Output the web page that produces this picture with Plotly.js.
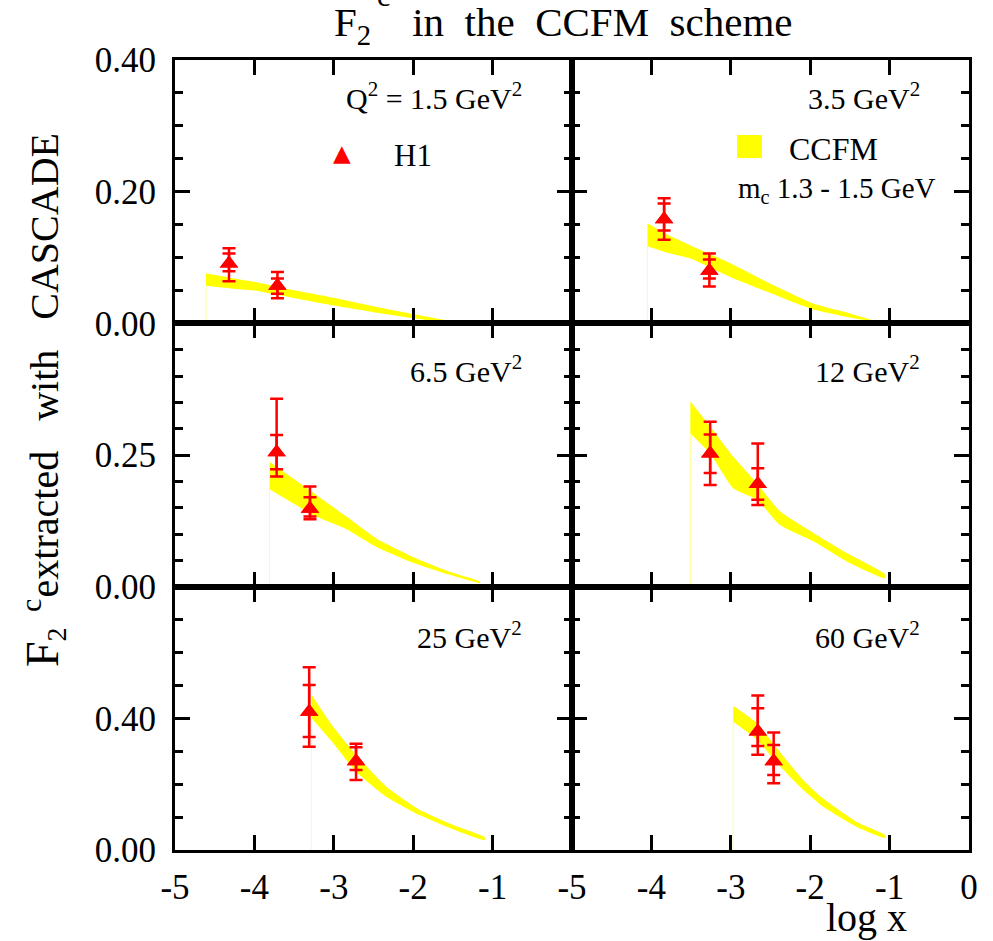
<!DOCTYPE html>
<html>
<head>
<meta charset="utf-8">
<script src="https://cdn.plot.ly/plotly-3.0.1.min.js"></script>
<style>html,body{margin:0;padding:0;background:#fff;}#chart{width:993px;height:941px;}</style>
</head>
<body>
<div id="chart"></div>
<script>
// ---------- data ----------
const panelLabels = [
  "Q<sup>2</sup> = 1.5 GeV<sup>2</sup>", "3.5 GeV<sup>2</sup>",
  "6.5 GeV<sup>2</sup>", "12 GeV<sup>2</sup>",
  "25 GeV<sup>2</sup>", "60 GeV<sup>2</sup>"
];
// CCFM band (m_c 1.3 - 1.5 GeV): log x, upper and lower edges
const bandX = [
  [-4.61, -4.30, -4.00, -3.70, -3.00, -2.50, -2.00, -1.60, -1.17],
  [-4.05, -3.82, -3.50, -3.00, -2.48, -1.96, -1.50, -1.08],
  [-3.81, -3.22, -2.84, -2.47, -2.01, -1.55, -1.16],
  [-3.51, -3.26, -2.97, -2.67, -2.38, -1.96, -1.54, -1.06],
  [-3.28, -3.01, -2.72, -2.34, -1.92, -1.50, -1.10],
  [-2.97, -2.67, -2.42, -2.09, -1.84, -1.42, -1.06]
];
const bandUpper = [
  [0.076, 0.069, 0.063, 0.055, 0.039, 0.026, 0.014, 0.005, 0.000],
  [0.152, 0.136, 0.118, 0.091, 0.059, 0.030, 0.015, 0.000],
  [0.237, 0.174, 0.133, 0.092, 0.057, 0.029, 0.010],
  [0.352, 0.304, 0.247, 0.196, 0.143, 0.102, 0.064, 0.024],
  [0.472, 0.375, 0.289, 0.193, 0.122, 0.076, 0.039],
  [0.438, 0.385, 0.309, 0.213, 0.157, 0.086, 0.046]
];
const bandLower = [
  [0.057, 0.053, 0.050, 0.043, 0.027, 0.017, 0.008, 0.001, 0.000],
  [0.117, 0.108, 0.098, 0.070, 0.045, 0.021, 0.009, 0.000],
  [0.185, 0.133, 0.109, 0.076, 0.046, 0.023, 0.007],
  [0.291, 0.253, 0.187, 0.165, 0.117, 0.086, 0.048, 0.016],
  [0.400, 0.325, 0.238, 0.162, 0.106, 0.063, 0.030],
  [0.390, 0.335, 0.264, 0.183, 0.132, 0.071, 0.037]
];
// H1 data points
const h1X = [[-4.32, -3.71], [-3.84, -3.27], [-3.72, -3.30], [-3.26, -2.66], [-3.31, -2.72], [-2.66, -2.46]];
const h1Y = [[0.091, 0.057], [0.158, 0.080], [0.255, 0.148], [0.253, 0.195], [0.420, 0.270], [0.360, 0.270]];
const statPlus  = [[0.015, 0.011], [0.024, 0.017], [0.033, 0.022], [0.036, 0.030], [0.081, 0.042], [0.071, 0.049]];
const statMinus = [[0.012, 0.012], [0.017, 0.012], [0.032, 0.015], [0.037, 0.030], [0.077, 0.027], [0.044, 0.042]];
const totPlus   = [[0.023, 0.021], [0.032, 0.026], [0.102, 0.042], [0.060, 0.077], [0.135, 0.053], [0.109, 0.087]];
const totMinus  = [[0.027, 0.019], [0.031, 0.024], [0.046, 0.020], [0.060, 0.040], [0.106, 0.057], [0.071, 0.067]];
// axes
const yMax = [0.4, 0.5, 0.8];
const yTickVals = [[0, 0.2, 0.4], [0, 0.25], [0, 0.4]];
const yMinorStep = [0.05, 0.05, 0.1];
const xTickValsLeft = [-5, -4, -3, -2, -1];
const xTickValsRight = [-5, -4, -3, -2, -1, 0];

// ---------- geometry helpers (pixels -> paper) ----------
const W = 993, H = 941, ML = 175, MR = 24, MT = 60, MB = 91;
const PW = W - ML - MR, PH = H - MT - MB;
const px = v => (v - ML) / PW;
const py = v => (H - MB - v) / PH;

const FONT = "Liberation Serif, Times New Roman, serif";
const RED = "#ff0000";
const YEL = "#ffff00";

const traces = [];
const layout = {
  width: W, height: H,
  margin: {l: ML, r: MR, t: MT, b: MB, pad: 0},
  paper_bgcolor: "#fff", plot_bgcolor: "#fff",
  showlegend: false,
  font: {family: FONT, color: "#000"},
  annotations: [], shapes: []
};

for (let i = 0; i < 6; i++) {
  const row = Math.floor(i / 2), col = i % 2;
  const n = i + 1;
  const xa = n === 1 ? "x" : "x" + n;
  const ya = n === 1 ? "y" : "y" + n;
  const xKey = n === 1 ? "xaxis" : "xaxis" + n;
  const yKey = n === 1 ? "yaxis" : "yaxis" + n;

  layout[xKey] = {
    domain: col === 0 ? [0, 0.5] : [0.5, 1],
    anchor: ya, range: [-5, 0],
    showline: true, linewidth: 3, linecolor: "#000", mirror: "allticks",
    ticks: "inside", ticklen: 15, tickwidth: 3, tickcolor: "#000",
    tickmode: "array",
    tickvals: col === 0 ? xTickValsLeft : xTickValsRight,
    ticktext: (col === 0 ? xTickValsLeft : xTickValsRight).map(String),
    showticklabels: row === 2,
    tickfont: {family: FONT, size: 35, color: "#000"},
    ticklabelstandoff: 4,
    showgrid: false, zeroline: false, fixedrange: true
  };
  layout[yKey] = {
    domain: row === 0 ? [2/3, 1] : row === 1 ? [1/3, 2/3] : [0, 1/3],
    anchor: xa, range: [0, yMax[row]],
    showline: true, linewidth: 3, linecolor: "#000", mirror: "allticks",
    ticks: "inside", ticklen: 15, tickwidth: 3, tickcolor: "#000",
    tickmode: "array", tickvals: yTickVals[row],
    ticktext: yTickVals[row].map(v => v.toFixed(2)),
    minor: {tickmode: "linear", tick0: 0, dtick: yMinorStep[row], ticks: "inside",
            ticklen: 8, tickwidth: 3, tickcolor: "#000", showgrid: false},
    showticklabels: col === 0,
    tickfont: {family: FONT, size: 35, color: "#000"},
    ticklabelstandoff: 9,
    showgrid: false, zeroline: false, fixedrange: true
  };

  // band
  const bx = bandX[i].concat(bandX[i].slice().reverse());
  const by = bandUpper[i].concat(bandLower[i].slice().reverse());
  traces.push({
    type: "scatter", mode: "lines", x: bx, y: by, xaxis: xa, yaxis: ya,
    fill: "toself", fillcolor: YEL,
    line: {width: 0, color: "rgba(0,0,0,0)", shape: "spline", smoothing: 0.5},
    hoverinfo: "skip"
  });
  // thin edge line down to the axis
  traces.push({
    type: "scatter", mode: "lines", x: [bandX[i][0], bandX[i][0]], y: [0, bandLower[i][0]],
    xaxis: xa, yaxis: ya, line: {width: 1, color: "#ffff90"}, hoverinfo: "skip"
  });
  // H1 total errors
  traces.push({
    type: "scatter", mode: "markers", x: h1X[i], y: h1Y[i], xaxis: xa, yaxis: ya,
    marker: {symbol: "triangle-up", size: 16, color: RED},
    error_y: {type: "data", symmetric: false, array: totPlus[i], arrayminus: totMinus[i],
              color: RED, thickness: 2.5, width: 6.5}
  });
  // H1 statistical errors
  traces.push({
    type: "scatter", mode: "markers", x: h1X[i], y: h1Y[i], xaxis: xa, yaxis: ya,
    marker: {symbol: "triangle-up", size: 16, color: RED},
    error_y: {type: "data", symmetric: false, array: statPlus[i], arrayminus: statMinus[i],
              color: RED, thickness: 2.5, width: 6.5}
  });

  // panel label
  const labelRight = col === 0 ? 524 : 922;
  const labelY = row === 0 ? 117 : row === 1 ? 390 : 656;
  layout.annotations.push({
    xref: "paper", yref: "paper", x: px(labelRight), y: py(labelY),
    xanchor: "right", yanchor: "bottom", showarrow: false,
    text: panelLabels[i], font: {family: FONT, size: 30, color: "#000"}
  });
}

// legend: H1
layout.annotations.push({
  xref: "paper", yref: "paper", x: px(342), y: py(153), xanchor: "center", yanchor: "middle",
  showarrow: false, text: "\u25B2", font: {family: "DejaVu Sans", size: 23, color: RED}
});
layout.annotations.push({
  xref: "paper", yref: "paper", x: px(392), y: py(155), xanchor: "left", yanchor: "middle",
  showarrow: false, text: "H1", font: {family: FONT, size: 31, color: "#000"}
});
// legend: CCFM
layout.shapes.push({
  type: "rect", xref: "paper", yref: "paper", x0: px(737), x1: px(762), y0: py(158), y1: py(135),
  fillcolor: YEL, line: {width: 0}
});
layout.annotations.push({
  xref: "paper", yref: "paper", x: px(787), y: py(149), xanchor: "left", yanchor: "middle",
  showarrow: false, text: "CCFM", font: {family: FONT, size: 32, color: "#000"}
});
layout.annotations.push({
  xref: "paper", yref: "paper", x: px(736), y: py(190), xanchor: "left", yanchor: "middle",
  showarrow: false, text: "m<sub>c</sub> 1.3 - 1.5 GeV", font: {family: FONT, size: 29, color: "#000"}
});

// title
layout.annotations.push({
  xref: "paper", yref: "paper", x: px(332), y: py(25), xanchor: "left", yanchor: "middle",
  showarrow: false, text: "F<sub>2</sub>\u00a0\u00a0\u00a0 in\u00a0 the\u00a0 CCFM\u00a0 scheme",
  font: {family: FONT, size: 41, color: "#000"}
});
layout.annotations.push({
  xref: "paper", yref: "paper", x: px(383), y: py(-5), xanchor: "center", yanchor: "middle",
  showarrow: false, text: "c", font: {family: FONT, size: 30, color: "#000"}
});
// y title
layout.annotations.push({
  xref: "paper", yref: "paper", x: px(45), y: py(400), xanchor: "center", yanchor: "middle",
  showarrow: false, textangle: -90,
  text: "<span style='font-size:46px'>F</span><sub>2</sub>\u00a0\u00a0\u00a0extracted\u00a0\u00a0\u00a0with\u00a0\u00a0\u00a0CASCADE",
  font: {family: FONT, size: 40, color: "#000"}
});
layout.annotations.push({
  xref: "paper", yref: "paper", x: px(30), y: py(606), xanchor: "center", yanchor: "middle",
  showarrow: false, textangle: -90, text: "c", font: {family: FONT, size: 30, color: "#000"}
});
// x title
layout.annotations.push({
  xref: "paper", yref: "paper", x: px(866), y: py(917), xanchor: "center", yanchor: "middle",
  showarrow: false, text: "log x", font: {family: FONT, size: 40, color: "#000"}
});

Plotly.newPlot("chart", traces, layout, {staticPlot: true, displayModeBar: false});
</script>
</body>
</html>
